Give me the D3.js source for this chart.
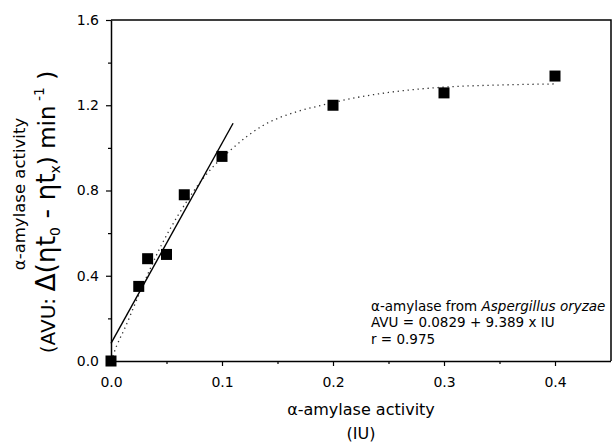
<!DOCTYPE html>
<html>
<head>
<meta charset="utf-8">
<script src="https://cdn.jsdelivr.net/npm/d3@7"></script>
<style>
body { margin: 0; background: #fff; }
text { font-family: "DejaVu Sans", Verdana, sans-serif; fill: #000; }
</style>
</head>
<body>
<script>
// measured points (IU, AVU)
var enzymeIU = [0, 0.025, 0.033, 0.05, 0.066, 0.1, 0.2, 0.3, 0.4];
var activityAVU = [0, 0.35, 0.48, 0.50, 0.78, 0.96, 1.20, 1.258, 1.337];

// dotted saturation curve
var curveIU = [0, 0.005, 0.013, 0.025, 0.046, 0.06, 0.085, 0.11, 0.137, 0.1675, 0.19, 0.22, 0.25, 0.3, 0.35, 0.4];
var curveAVU = [0, 0.07, 0.16, 0.31, 0.55, 0.68, 0.87, 1.0, 1.105, 1.17, 1.20, 1.235, 1.26, 1.285, 1.295, 1.30];

// linear regression AVU = 0.0829 + 9.389 x IU, drawn from 0 to 0.11
var fitIntercept = 0.0829;
var fitSlope = 9.389;
var fitRange = [0, 0.11];

var xTicks = [0, 0.1, 0.2, 0.3, 0.4];
var xMinor = [0.05, 0.15, 0.25, 0.35];
var yTicks = [0, 0.4, 0.8, 1.2, 1.6];
var yMinor = [0.2, 0.6, 1.0, 1.4];

var legendLines = ["AVU = 0.0829 + 9.389 x IU", "r = 0.975"];

var W = 612, H = 442;
var pL = 111, pR = 611, pT = 20, pB = 361;

var svg = d3.select("body").append("svg")
    .attr("width", W)
    .attr("height", H);

var x = d3.scaleLinear().domain([0, 0.45]).range([pL, pR - 0.5]);
var y = d3.scaleLinear().domain([0, 1.6]).range([pB, pT]);

// frame top and right
svg.append("path")
    .attr("d", "M" + pL + "," + pT + "H" + pR + "V" + pB)
    .attr("fill", "none")
    .attr("stroke", "#000")
    .attr("stroke-width", 1.5);

var fmt = d3.format(".1f");

var gx = svg.append("g")
    .attr("transform", "translate(0," + pB + ")")
    .call(d3.axisBottom(x).tickValues(xTicks).tickFormat(fmt).tickSize(5).tickPadding(11).tickSizeOuter(0));
svg.append("g")
    .attr("transform", "translate(0," + pB + ")")
    .call(d3.axisBottom(x).tickValues(xMinor).tickFormat("").tickSize(3).tickSizeOuter(0))
    .select(".domain").remove();

var gy = svg.append("g")
    .attr("transform", "translate(" + pL + ",0)")
    .call(d3.axisLeft(y).tickValues(yTicks).tickFormat(fmt).tickSize(5).tickPadding(7).tickSizeOuter(0));
svg.append("g")
    .attr("transform", "translate(" + pL + ",0)")
    .call(d3.axisLeft(y).tickValues(yMinor).tickFormat("").tickSize(3).tickSizeOuter(0))
    .select(".domain").remove();

[gx, gy].forEach(function(g) {
    g.attr("font-size", 14).attr("font-family", "'DejaVu Sans', Verdana, sans-serif");
    g.selectAll("text").attr("font-size", 14);
});

svg.selectAll(".domain").attr("stroke-width", 1.5);
svg.selectAll(".tick line").attr("stroke-width", 1.2);

// dotted curve
var curveData = curveIU.map(function(d, i) { return [d, curveAVU[i]]; });
svg.append("path")
    .datum(curveData)
    .attr("fill", "none")
    .attr("stroke", "#333")
    .attr("stroke-width", 1.3)
    .attr("stroke-dasharray", "1.3,3.7")
    .attr("d", d3.line()
        .x(function(d) { return x(d[0]); })
        .y(function(d) { return y(d[1]); })
        .curve(d3.curveMonotoneX));

// linear fit
svg.append("line")
    .attr("x1", x(fitRange[0]))
    .attr("y1", y(fitIntercept + fitSlope * fitRange[0]))
    .attr("x2", x(fitRange[1]))
    .attr("y2", y(fitIntercept + fitSlope * fitRange[1]))
    .attr("stroke", "#000")
    .attr("stroke-width", 1.4);

// square markers
var sz = 11;
svg.selectAll("rect.pt")
    .data(enzymeIU)
    .enter().append("rect")
    .attr("class", "pt")
    .attr("x", function(d) { return x(d) - sz / 2; })
    .attr("y", function(d, i) { return y(activityAVU[i]) - sz / 2; })
    .attr("width", sz)
    .attr("height", sz)
    .attr("fill", "#000");

// legend text
var leg = svg.append("text")
    .attr("x", 371)
    .attr("y", 310.5)
    .style("font-size", "13.5px");
leg.append("tspan").text("\u03b1-amylase from ");
leg.append("tspan").style("font-style", "italic").text("Aspergillus oryzae");
legendLines.forEach(function(t, i) {
    svg.append("text")
        .attr("x", 371)
        .attr("y", 327 + i * 16.5)
        .style("font-size", "13.5px")
        .text(t);
});

// x title
svg.append("text")
    .attr("x", (pL + pR) / 2)
    .attr("y", 415)
    .attr("text-anchor", "middle")
    .style("font-size", "16px")
    .text("\u03b1-amylase activity");
svg.append("text")
    .attr("x", (pL + pR) / 2)
    .attr("y", 439)
    .attr("text-anchor", "middle")
    .style("font-size", "16px")
    .text("(IU)");

// y title
svg.append("text")
    .attr("transform", "translate(25,194) rotate(-90)")
    .attr("text-anchor", "middle")
    .style("font-size", "16.5px")
    .text("\u03b1-amylase activity");

var yt = svg.append("text")
    .attr("transform", "translate(55,212) rotate(-90)")
    .attr("text-anchor", "middle")
    .style("font-size", "20px");
yt.append("tspan").text("(AVU:  ");
yt.append("tspan").style("font-size", "26.5px").text("\u0394(\u03b7t");
yt.append("tspan").style("font-size", "14px").attr("dy", 5).text("0");
yt.append("tspan").style("font-size", "26.5px").attr("dy", -5).text(" - \u03b7t");
yt.append("tspan").style("font-size", "14px").attr("dy", 5).text("x");
yt.append("tspan").style("font-size", "23px").attr("dy", -5).text(") min");
yt.append("tspan").style("font-size", "14px").attr("dy", -11).text(" -1");
yt.append("tspan").style("font-size", "23px").attr("dy", 11).text(" )");
</script>
</body>
</html>
